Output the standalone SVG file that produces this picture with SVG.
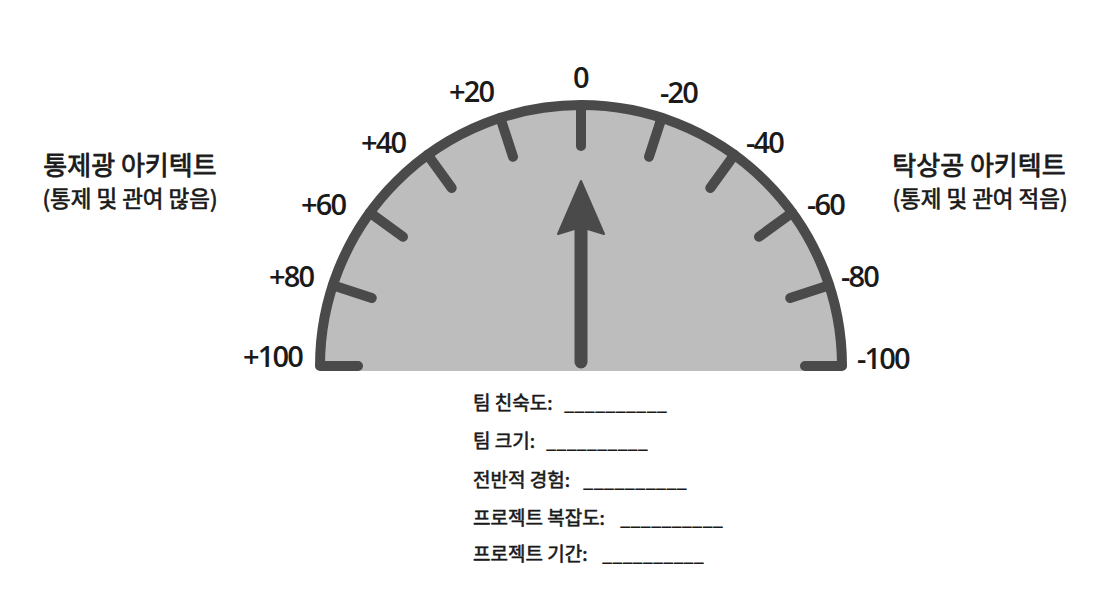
<svg xmlns="http://www.w3.org/2000/svg" width="1116" height="594" viewBox="0 0 1116 594">
<style>
.num{font-family:"Open Sans","Noto Sans",sans-serif;font-size:29px;font-weight:600;fill:#1a1a1a;letter-spacing:-1.8px}
.ko{font-family:"Noto Sans CJK KR","Noto Sans",sans-serif;font-weight:400;fill:#1a1a1a;stroke:#1a1a1a;stroke-linejoin:round}
.title{font-size:26px;text-anchor:middle;stroke-width:0.8px}
.sub{font-size:22.5px;text-anchor:middle;stroke-width:0.7px}
.item{font-size:19px;stroke-width:0.6px}
.line{font-family:"Noto Sans CJK KR","Noto Sans",sans-serif;font-size:19px;font-weight:700;fill:#1a1a1a}
.dark{stroke:#4a4a4a;stroke-width:10;stroke-linecap:round;fill:none}
</style>
<rect width="1116" height="594" fill="#ffffff"/>
<g id="gauge">
<path d="M320 371 L320 366 A261 261 0 0 1 842 366 L842 371 Z" fill="#bdbdbd"/>
<path class="dark" d="M358 366 L320 366 A261 261 0 0 1 842 366 L805 366" stroke-linecap="round" stroke-linejoin="round"/>
<g id="ticks" class="dark">
<line x1="332.8" y1="285.3" x2="371.8" y2="298.0"/>
<line x1="369.8" y1="212.6" x2="403.0" y2="236.7"/>
<line x1="427.6" y1="154.8" x2="451.7" y2="188.0"/>
<line x1="500.3" y1="117.8" x2="513.0" y2="156.8"/>
<line x1="581" y1="105" x2="581" y2="146"/>
<line x1="661.7" y1="117.8" x2="649.0" y2="156.8"/>
<line x1="734.4" y1="154.8" x2="710.3" y2="188.0"/>
<line x1="792.2" y1="212.6" x2="759.0" y2="236.7"/>
<line x1="829.2" y1="285.3" x2="790.2" y2="298.0"/>
</g>
</g>
<g id="needle">
<line x1="581" y1="362" x2="581" y2="226" stroke="#4a4a4a" stroke-width="13" stroke-linecap="round"/>
<polygon points="581,181 558,234 581,227 604,234" fill="#4a4a4a" stroke="#4a4a4a" stroke-width="2" stroke-linejoin="round"/>
</g>
<g id="scale-labels">
<text class="num" x="573" y="88">0</text>
<text class="num" x="449" y="102">+20</text>
<text class="num" x="660" y="103">-20</text>
<text class="num" x="361" y="153">+40</text>
<text class="num" x="746" y="153">-40</text>
<text class="num" x="301" y="215">+60</text>
<text class="num" x="807" y="215">-60</text>
<text class="num" x="269" y="287">+80</text>
<text class="num" x="841" y="287">-80</text>
<text class="num" x="243" y="367">+100</text>
<text class="num" x="857" y="369">-100</text>
</g>
<g id="left-label">
<text class="ko title" x="130" y="175">통제광 아키텍트</text>
<text class="ko sub" x="130" y="207">(통제 및 관여 많음)</text>
</g>
<g id="right-label">
<text class="ko title" x="979" y="175">탁상공 아키텍트</text>
<text class="ko sub" x="980" y="207">(통제 및 관여 적음)</text>
</g>
<g id="form">
<text class="ko item" x="473" y="410">팀 친숙도:</text>
<text class="line" x="564" y="410" textLength="103" lengthAdjust="spacingAndGlyphs">__________</text>
<text class="ko item" x="473" y="448">팀 크기:</text>
<text class="line" x="546" y="448" textLength="102" lengthAdjust="spacingAndGlyphs">__________</text>
<text class="ko item" x="473" y="487">전반적 경험:</text>
<text class="line" x="583" y="487" textLength="104" lengthAdjust="spacingAndGlyphs">__________</text>
<text class="ko item" x="473" y="525">프로젝트 복잡도:</text>
<text class="line" x="620" y="525" textLength="103" lengthAdjust="spacingAndGlyphs">__________</text>
<text class="ko item" x="473" y="561">프로젝트 기간:</text>
<text class="line" x="602" y="561" textLength="102" lengthAdjust="spacingAndGlyphs">__________</text>
</g>
</svg>
